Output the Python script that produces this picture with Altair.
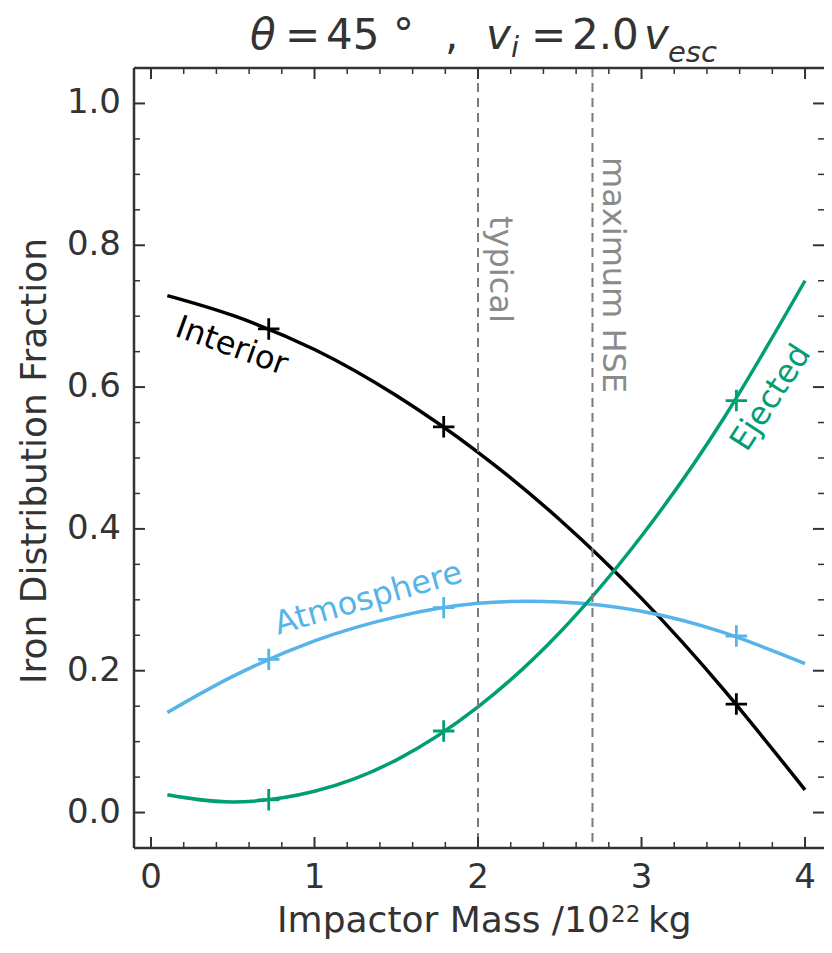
import altair as alt
import pandas as pd

# ---------------- data ----------------
mass = [0.1, 0.5, 1.0, 1.5, 2.0, 2.5, 3.0, 3.5, 4.0]
interior = [0.729, 0.701, 0.653, 0.588, 0.508, 0.413, 0.302, 0.174, 0.032]
atmosphere = [0.141, 0.192, 0.242, 0.276, 0.295, 0.297, 0.284, 0.254, 0.210]
ejected = [0.025, 0.015, 0.030, 0.074, 0.149, 0.254, 0.390, 0.555, 0.750]

sim_mass = [0.72, 1.79, 3.58]
sim_interior = [0.682, 0.544, 0.153]
sim_atmosphere = [0.216, 0.289, 0.249]
sim_ejected = [0.018, 0.115, 0.581]

series_names = ["Interior", "Atmosphere", "Ejected"]
series_colors = ["#000000", "#56B4E9", "#009E73"]

ref_mass = [2.0, 2.7]
ref_labels = ["typical", "maximum HSE"]

x_major = [0, 1, 2, 3, 4]
x_minor = [0.2, 0.4, 0.6, 0.8, 1.2, 1.4, 1.6, 1.8, 2.2, 2.4, 2.6, 2.8,
           3.2, 3.4, 3.6, 3.8]
y_major = [0.0, 0.2, 0.4, 0.6, 0.8, 1.0]
y_minor = [0.05, 0.1, 0.15, 0.25, 0.3, 0.35, 0.45, 0.5, 0.55, 0.65, 0.7,
           0.75, 0.85, 0.9, 0.95]

y_title = "Iron Distribution Fraction"

# ---------------- tables ----------------
curves = pd.DataFrame({
    "x": mass * 3,
    "y": interior + atmosphere + ejected,
    "series": [s for s in series_names for _ in mass],
})
sims = pd.DataFrame({
    "x": sim_mass * 3,
    "y": sim_interior + sim_atmosphere + sim_ejected,
    "series": [s for s in series_names for _ in sim_mass],
})
refs = pd.DataFrame({"x": ref_mass, "label": ref_labels})
xmaj = pd.DataFrame({"x": x_major})
xmin = pd.DataFrame({"x": x_minor})
ymaj = pd.DataFrame({"y": y_major})
ymin = pd.DataFrame({"y": y_minor})
one = pd.DataFrame({"a": [0]})

W, H = 690, 780
FONT = "DejaVu Sans"
INK = "#333333"

xs = alt.Scale(domain=[-0.104, 4.116], nice=False, zero=False)
ys = alt.Scale(domain=[-0.05, 1.05], nice=False, zero=False)
cs = alt.Scale(domain=series_names, range=series_colors)

X = alt.X("x:Q", scale=xs, axis=None)
Y = alt.Y("y:Q", scale=ys, axis=None)
C = alt.Color("series:N", scale=cs, legend=None)

lines = alt.Chart(curves).mark_line(strokeWidth=3.5, interpolate="natural").encode(
    x=X, y=Y, color=C, detail="series:N")

plus = "M-1,0L1,0M0,-1L0,1"
points = alt.Chart(sims).mark_point(shape=plus, size=460, strokeWidth=2.8,
                                     filled=False, opacity=1).encode(x=X, y=Y, color=C)

vlines = alt.Chart(refs).mark_rule(color="#7a7a7a", strokeWidth=2,
                                   strokeDash=[9, 6]).encode(x=X)

# tick marks drawn inward on all four sides
bt_major = alt.Chart(xmaj).mark_rule(color=INK, strokeWidth=2).encode(
    x=X, y=alt.value(H), y2=alt.value(H - 11))
bt_minor = alt.Chart(xmin).mark_rule(color=INK, strokeWidth=1.5).encode(
    x=X, y=alt.value(H), y2=alt.value(H - 6))
tp_major = alt.Chart(xmaj).mark_rule(color=INK, strokeWidth=2).encode(
    x=X, y=alt.value(0), y2=alt.value(11))
tp_minor = alt.Chart(xmin).mark_rule(color=INK, strokeWidth=1.5).encode(
    x=X, y=alt.value(0), y2=alt.value(6))
lf_major = alt.Chart(ymaj).mark_rule(color=INK, strokeWidth=2).encode(
    y=Y, x=alt.value(0), x2=alt.value(11))
lf_minor = alt.Chart(ymin).mark_rule(color=INK, strokeWidth=1.5).encode(
    y=Y, x=alt.value(0), x2=alt.value(6))
rt_major = alt.Chart(ymaj).mark_rule(color=INK, strokeWidth=2).encode(
    y=Y, x=alt.value(W - 11), x2=alt.value(W))
rt_minor = alt.Chart(ymin).mark_rule(color=INK, strokeWidth=1.5).encode(
    y=Y, x=alt.value(W - 6), x2=alt.value(W))

# frame (left, bottom, top; the right edge is cut off in the reference)
frame_top = alt.Chart(one).mark_rule(color=INK, strokeWidth=2.5).encode(
    x=alt.value(0), x2=alt.value(W + 10), y=alt.value(0))
frame_bottom = alt.Chart(one).mark_rule(color=INK, strokeWidth=2.5).encode(
    x=alt.value(0), x2=alt.value(W + 10), y=alt.value(H))
frame_left = alt.Chart(one).mark_rule(color=INK, strokeWidth=2.5).encode(
    x=alt.value(0), y=alt.value(0), y2=alt.value(H))

# tick labels, positioned through the scales
x_labels = alt.Chart(xmaj).mark_text(font=FONT, fontSize=34, color=INK,
                                     align="center", baseline="top").encode(
    x=X, y=alt.value(H + 13), text=alt.Text("x:Q", format="d"))
y_labels = alt.Chart(ymaj).mark_text(font=FONT, fontSize=34, color=INK,
                                     align="right", baseline="middle").encode(
    y=Y, x=alt.value(-13), text=alt.Text("y:Q", format=".1f"))


def tpiece(text, px, py, size, italic=False, angle=0, align="left"):
    return alt.Chart(one).mark_text(text=text, font=FONT, fontSize=size,
                                    fontStyle="italic" if italic else "normal",
                                    align=align, baseline="alphabetic", angle=angle,
                                    color=INK).encode(
        x=alt.value(px), y=alt.value(py))


x_title_pieces = [
    tpiece("Impactor Mass /10", 143, H + 84, 36),
    tpiece("22", 477, H + 74, 23),
    tpiece("kg", 514, H + 84, 36),
]
y_title_mark = tpiece(y_title, -88, 393, 36, angle=270, align="center")


def label(text, x, y, angle, color, size=32):
    return alt.Chart(one).mark_text(text=text, angle=angle, color=color, font=FONT,
                                    fontSize=size, align="center",
                                    baseline="middle").encode(
        x=alt.XDatum(x, scale=xs, axis=None), y=alt.YDatum(y, scale=ys, axis=None))


labels = [
    label("Interior", 0.494, 0.658, 20, "#000000"),
    label("Atmosphere", 1.329, 0.302, 344, "#56B4E9"),
    label("Ejected", 3.79, 0.585, 303, "#009E73"),
    label(ref_labels[0], 2.135, 0.766, 90, "#8a8a8a"),
    label(ref_labels[1], 2.823, 0.758, 90, "#8a8a8a"),
]

TS, SS, TB = 42, 29, -19
title_pieces = [
    tpiece("θ", 116, TB, TS, True),
    tpiece("=", 151, TB, TS),
    tpiece("45", 192, TB, TS),
    tpiece("°", 259, TB, TS),
    tpiece(",", 311, TB, TS),
    tpiece("v", 352, TB, TS, True),
    tpiece("i", 377, TB + 8, SS, True),
    tpiece("=", 397, TB, TS),
    tpiece("2.0", 438, TB, TS),
    tpiece("v", 510, TB, TS, True),
    tpiece("esc", 534, TB + 13, SS, True),
]

chart = alt.layer(
    lines, vlines, points,
    bt_major, bt_minor, tp_major, tp_minor, lf_major, lf_minor, rt_major, rt_minor,
    frame_top, frame_bottom, frame_left,
    x_labels, y_labels, *x_title_pieces, y_title_mark,
    *labels, *title_pieces,
).properties(
    width=W, height=H,
    autosize="none",
    padding={"left": 126, "top": 60, "right": 0, "bottom": 94},
).configure_view(stroke=None)

chart.save("out.html", embed_options={"renderer": "svg", "actions": False})
